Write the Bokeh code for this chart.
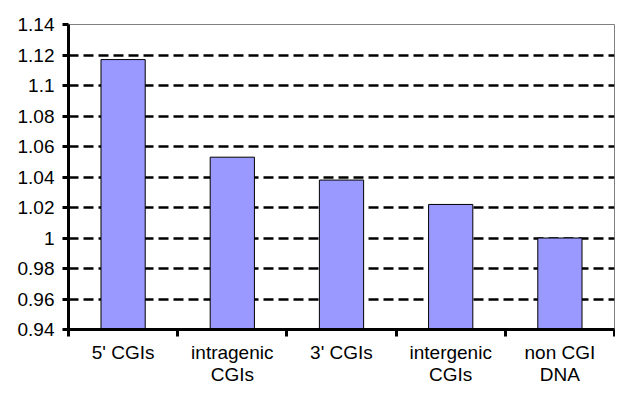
import numpy as np
from bokeh.plotting import figure
from bokeh.models import FixedTicker, CustomJSTickFormatter, Range1d, ColumnDataSource
from bokeh.embed import file_html
from bokeh.resources import INLINE

categories = ["5' CGIs", "intragenic\nCGIs", "3' CGIs", "intergenic\nCGIs", "non CGI\nDNA"]
values = [1.117, 1.053, 1.038, 1.022, 1.000]
y_ticks = [0.94, 0.96, 0.98, 1.00, 1.02, 1.04, 1.06, 1.08, 1.10, 1.12, 1.14]

n = len(categories)
xs = np.arange(n) + 0.5
src = ColumnDataSource(dict(x=xs, top=values))

p = figure(width=615, height=387, output_backend="svg", toolbar_location=None,
           x_range=Range1d(0, n), y_range=Range1d(y_ticks[0], y_ticks[-1]),
           min_border_left=68, min_border_right=1, min_border_top=24, min_border_bottom=58)

p.vbar(x="x", top="top", bottom=y_ticks[0], width=0.405, source=src,
       fill_color="#9999FF", line_color="black", line_width=1)

p.outline_line_color = "#808080"
p.outline_line_width = 1
p.background_fill_color = "white"
p.border_fill_color = "white"

p.xgrid.grid_line_color = None
p.ygrid.grid_line_color = "black"
p.ygrid.grid_line_width = 2.5
p.ygrid.grid_line_dash = "10 5"

p.yaxis.ticker = FixedTicker(ticks=y_ticks)
p.yaxis.formatter = CustomJSTickFormatter(code="return parseFloat(tick.toFixed(2)).toString();")
p.yaxis.axis_line_width = 3
p.yaxis.axis_line_color = "black"
p.yaxis.major_tick_line_width = 3
p.yaxis.major_tick_out = 6
p.yaxis.major_tick_in = 0
p.yaxis.minor_tick_line_color = None
p.yaxis.major_label_text_font = "Liberation Sans"
p.yaxis.major_label_text_font_size = "19px"
p.yaxis.major_label_text_color = "black"
p.yaxis.major_label_standoff = 8

p.xaxis.ticker = FixedTicker(ticks=list(xs), minor_ticks=list(range(n + 1)))
p.xaxis.major_label_overrides = {float(x): c for x, c in zip(xs, categories)}
p.xaxis.axis_line_width = 3
p.xaxis.axis_line_color = "black"
p.xaxis.major_tick_line_color = None
p.xaxis.major_tick_out = 0
p.xaxis.major_tick_in = 0
p.xaxis.minor_tick_line_width = 3
p.xaxis.minor_tick_line_color = "black"
p.xaxis.minor_tick_out = 7
p.xaxis.minor_tick_in = 0
p.xaxis.major_label_text_font = "Liberation Sans"
p.xaxis.major_label_text_font_size = "19px"
p.xaxis.major_label_text_line_height = 1.05
p.xaxis.major_label_text_color = "black"
p.xaxis.major_label_standoff = 5

open("out.html", "w").write(file_html(p, INLINE))
